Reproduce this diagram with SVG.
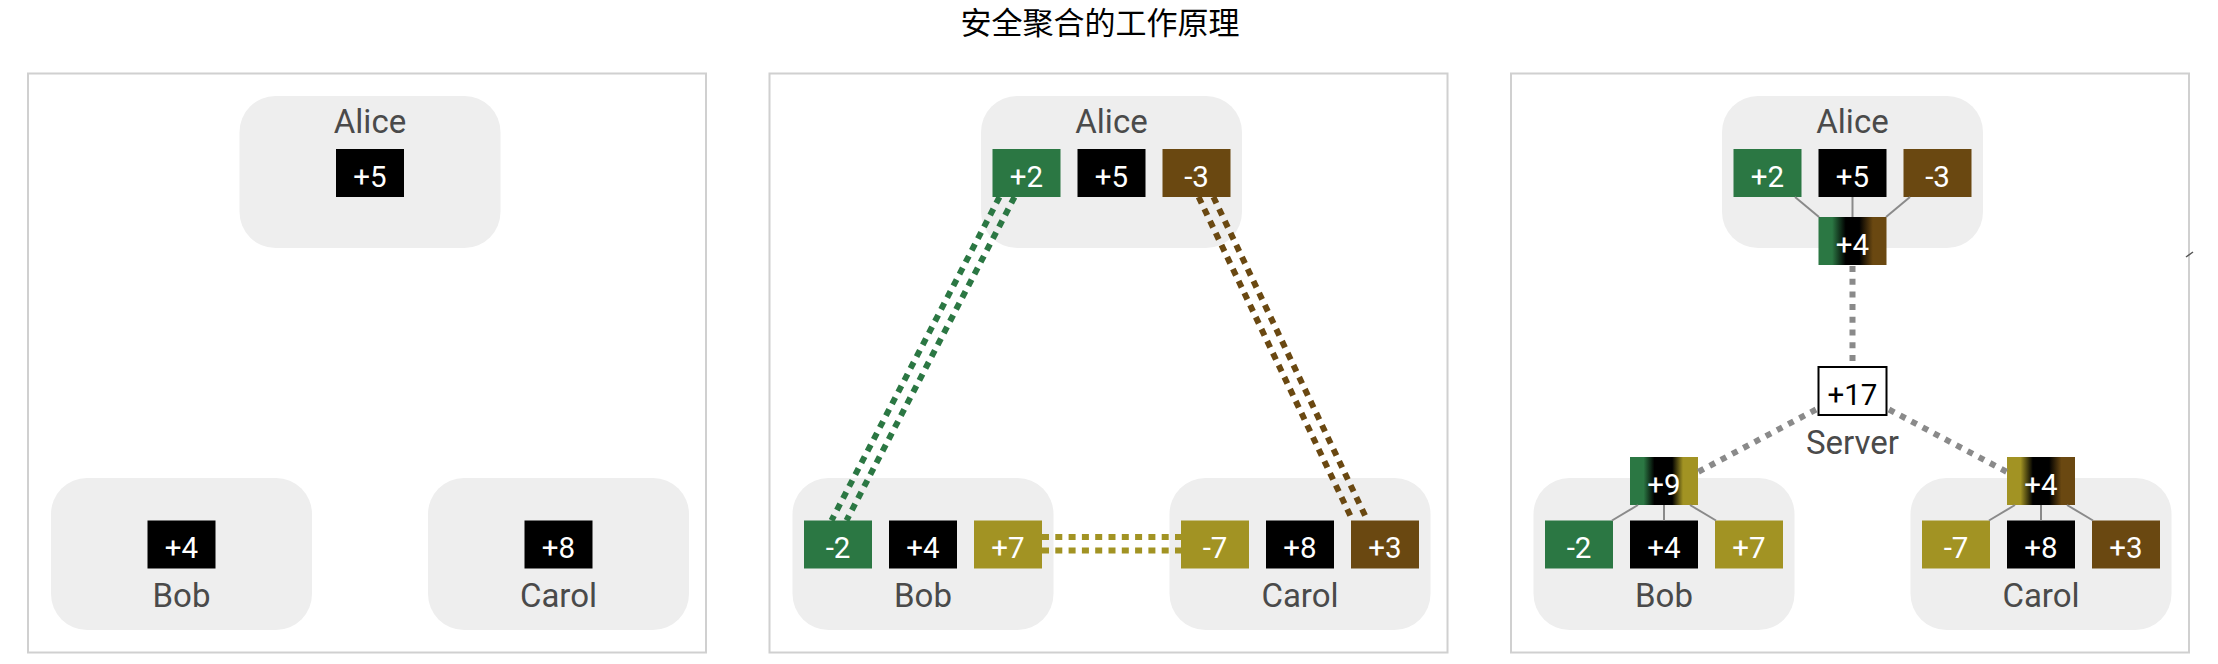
<svg xmlns="http://www.w3.org/2000/svg" width="2218" height="664" viewBox="0 0 2218 664">
<style>
.panel{fill:#fff;stroke:#d0d0d0;stroke-width:2}
.bg{fill:#eeeeee}
.name{font-family:Roboto,"Liberation Sans",sans-serif;font-weight:400;font-size:33px;fill:#4a4a4a;text-anchor:middle}
.num{font-family:Roboto,"Liberation Sans",sans-serif;font-size:29.5px;fill:#fff;text-anchor:middle}
.k{fill:#000}
.g{fill:#2b7743}
.b{fill:#6a4811}
.o{fill:#a29323}
.gl{stroke:#2b7743;stroke-width:6;stroke-dasharray:7 6.3;fill:none}
.bl{stroke:#6a4811;stroke-width:6;stroke-dasharray:7 6.3;fill:none}
.ol{stroke:#a29323;stroke-width:6;stroke-dasharray:7 6.3;fill:none}
.dl{stroke:#8a8a8a;stroke-width:6;stroke-dasharray:6 6.7;fill:none}
.sl{stroke:#8a8a8a;stroke-width:2;fill:none}
</style>
<defs>
<linearGradient id="gA" x1="0" y1="0" x2="1" y2="0">
<stop offset="0.2" stop-color="#2b7743"/><stop offset="0.4" stop-color="#000"/><stop offset="0.6" stop-color="#000"/><stop offset="0.8" stop-color="#6a4811"/>
</linearGradient>
<linearGradient id="gB" x1="0" y1="0" x2="1" y2="0">
<stop offset="0.2" stop-color="#2b7743"/><stop offset="0.36" stop-color="#000"/><stop offset="0.62" stop-color="#000"/><stop offset="0.78" stop-color="#a29323"/>
</linearGradient>
<linearGradient id="gC" x1="0" y1="0" x2="1" y2="0">
<stop offset="0.2" stop-color="#a29323"/><stop offset="0.38" stop-color="#000"/><stop offset="0.62" stop-color="#000"/><stop offset="0.8" stop-color="#6a4811"/>
</linearGradient>
</defs>
<text x="1100" y="34" font-family="'Noto Sans CJK SC',sans-serif" font-size="31" text-anchor="middle" fill="#000">安全聚合的工作原理</text>

<g id="panels">
<rect class="panel" x="28" y="73.5" width="678" height="579"/>
<rect class="panel" x="769.5" y="73.5" width="678" height="579"/>
<rect class="panel" x="1511" y="73.5" width="678" height="579"/>
<line x1="2186" y1="257" x2="2193" y2="252" stroke="#555" stroke-width="1.5"/>
</g>

<!-- Panel 1 -->
<g id="p1-alice">
<rect class="bg" x="239.5" y="96" width="261" height="152" rx="36"/>
<text class="name" x="370" y="133">Alice</text>
<rect class="k" x="336" y="149" width="68" height="48"/><text class="num" x="370" y="186.5">+5</text>
</g>
<g id="p1-bob">
<rect class="bg" x="51" y="478" width="261" height="152" rx="36"/>
<rect class="k" x="147.5" y="520.5" width="68" height="48"/><text class="num" x="181.5" y="558">+4</text>
<text class="name" x="181.5" y="607">Bob</text>
</g>
<g id="p1-carol">
<rect class="bg" x="428" y="478" width="261" height="152" rx="36"/>
<rect class="k" x="524.5" y="520.5" width="68" height="48"/><text class="num" x="558.5" y="558">+8</text>
<text class="name" x="558.5" y="607">Carol</text>
</g>

<!-- Panel 2 -->
<g id="p2-alice">
<rect class="bg" x="981" y="96" width="261" height="152" rx="36"/>
<text class="name" x="1111.5" y="133">Alice</text>
<rect class="g" x="992.5" y="149" width="68" height="48"/><text class="num" x="1026.5" y="186.5">+2</text>
<rect class="k" x="1077.5" y="149" width="68" height="48"/><text class="num" x="1111.5" y="186.5">+5</text>
<rect class="b" x="1162.5" y="149" width="68" height="48"/><text class="num" x="1196.5" y="186.5">-3</text>
</g>
<g id="p2-bob">
<rect class="bg" x="792.5" y="478" width="261" height="152" rx="36"/>
<rect class="g" x="804" y="520.5" width="68" height="48"/><text class="num" x="838" y="558">-2</text>
<rect class="k" x="889" y="520.5" width="68" height="48"/><text class="num" x="923" y="558">+4</text>
<rect class="o" x="974" y="520.5" width="68" height="48"/><text class="num" x="1008" y="558">+7</text>
<text class="name" x="923" y="607">Bob</text>
</g>
<g id="p2-carol">
<rect class="bg" x="1169.5" y="478" width="261" height="152" rx="36"/>
<rect class="o" x="1181" y="520.5" width="68" height="48"/><text class="num" x="1215" y="558">-7</text>
<rect class="k" x="1266" y="520.5" width="68" height="48"/><text class="num" x="1300" y="558">+8</text>
<rect class="b" x="1351" y="520.5" width="68" height="48"/><text class="num" x="1385" y="558">+3</text>
<text class="name" x="1300" y="607">Carol</text>
</g>

<!-- Panel 3 -->
<g id="p3-alice">
<rect class="bg" x="1722" y="96" width="261" height="152" rx="36"/>
<text class="name" x="1852.5" y="133">Alice</text>
<rect class="g" x="1733.5" y="149" width="68" height="48"/><text class="num" x="1767.5" y="186.5">+2</text>
<rect class="k" x="1818.5" y="149" width="68" height="48"/><text class="num" x="1852.5" y="186.5">+5</text>
<rect class="b" x="1903.5" y="149" width="68" height="48"/><text class="num" x="1937.5" y="186.5">-3</text>
<rect fill="url(#gA)" x="1818.5" y="217" width="68" height="48"/><text class="num" x="1852.5" y="254.5">+4</text>
</g>
<g id="p3-server">
<rect x="1818.5" y="367" width="68" height="48" fill="#fff" stroke="#000" stroke-width="2"/>
<text class="num" x="1852.5" y="404.5" style="fill:#000">+17</text>
<text class="name" x="1852.5" y="454">Server</text>
</g>
<g id="p3-bob">
<rect class="bg" x="1533.5" y="478" width="261" height="152" rx="36"/>
<rect fill="url(#gB)" x="1630" y="457" width="68" height="48"/><text class="num" x="1664" y="494.5">+9</text>
<rect class="g" x="1545" y="520.5" width="68" height="48"/><text class="num" x="1579" y="558">-2</text>
<rect class="k" x="1630" y="520.5" width="68" height="48"/><text class="num" x="1664" y="558">+4</text>
<rect class="o" x="1715" y="520.5" width="68" height="48"/><text class="num" x="1749" y="558">+7</text>
<text class="name" x="1664" y="607">Bob</text>
</g>
<g id="p3-carol">
<rect class="bg" x="1910.5" y="478" width="261" height="152" rx="36"/>
<rect fill="url(#gC)" x="2007" y="457" width="68" height="48"/><text class="num" x="2041" y="494.5">+4</text>
<rect class="o" x="1922" y="520.5" width="68" height="48"/><text class="num" x="1956" y="558">-7</text>
<rect class="k" x="2007" y="520.5" width="68" height="48"/><text class="num" x="2041" y="558">+8</text>
<rect class="b" x="2092" y="520.5" width="68" height="48"/><text class="num" x="2126" y="558">+3</text>
<text class="name" x="2041" y="607">Carol</text>
</g>

<g id="connectors">
<line class="gl" x1="999.5" y1="197" x2="831.5" y2="520.5"/>
<line class="gl" x1="1014.5" y1="197" x2="846.5" y2="520.5"/>
<line class="bl" x1="1198.6" y1="197" x2="1352.6" y2="520.5"/>
<line class="bl" x1="1213.4" y1="197" x2="1367.4" y2="520.5"/>
<line class="ol" x1="1042" y1="537" x2="1181" y2="537"/>
<line class="ol" x1="1042" y1="550.4" x2="1181" y2="550.4"/>
<line class="sl" x1="1795" y1="197" x2="1819" y2="217"/>
<line class="sl" x1="1852.5" y1="197" x2="1852.5" y2="217"/>
<line class="sl" x1="1910" y1="197" x2="1886" y2="217"/>
<line class="sl" x1="1612" y1="520.5" x2="1638" y2="505"/>
<line class="sl" x1="1664" y1="505" x2="1664" y2="520.5"/>
<line class="sl" x1="1690" y1="505" x2="1716" y2="520.5"/>
<line class="sl" x1="1989" y1="520.5" x2="2015" y2="505"/>
<line class="sl" x1="2041" y1="505" x2="2041" y2="520.5"/>
<line class="sl" x1="2067" y1="505" x2="2093" y2="520.5"/>
<line class="dl" x1="1852.5" y1="266" x2="1852.5" y2="366"/>
<line class="dl" x1="1816" y1="409.5" x2="1698" y2="472"/>
<line class="dl" x1="1889" y1="409.5" x2="2007" y2="472"/>
</g>
</svg>
